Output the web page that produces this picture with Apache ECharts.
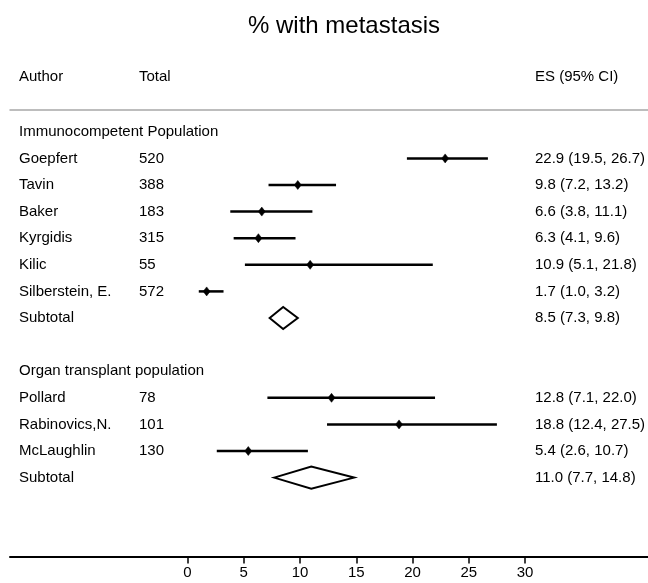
<!DOCTYPE html>
<html>
<head>
<meta charset="utf-8">
<script src="https://cdn.jsdelivr.net/npm/echarts@6/dist/echarts.min.js"></script>
<style>
html,body{margin:0;padding:0;background:#fff;}
#chart{width:648px;height:583px;}
</style>
</head>
<body>
<div id="chart"></div>
<script>
// ---- data ----
const rowLabels = ['Immunocompetent Population','Goepfert','Tavin','Baker','Kyrgidis','Kilic','Silberstein, E.','Subtotal','','Organ transplant population','Pollard','Rabinovics,N.','McLaughlin','Subtotal'];
const rowTotals = ['','520','388','183','315','55','572','','','','78','101','130',''];
const rowKinds  = ['group','study','study','study','study','study','study','pooled','blank','group','study','study','study','pooled'];
const esValues  = [null,22.9,9.8,6.6,6.3,10.9,1.7,8.5,null,null,12.8,18.8,5.4,11.0];
const ciLower   = [null,19.5,7.2,3.8,4.1,5.1,1.0,7.3,null,null,7.1,12.4,2.6,7.7];
const ciUpper   = [null,26.7,13.2,11.1,9.6,21.8,3.2,9.8,null,null,22.0,27.5,10.7,14.8];
const xTicks    = [0,5,10,15,20,25,30];
const titleText = '% with metastasis';
const headers   = ['Author','Total','ES (95% CI)'];

const FONT = "'Liberation Sans', Arial, Helvetica, sans-serif";
const fmt = v => v.toFixed(1);

const seriesData = rowLabels.map((lab, i) => [i, esValues[i], ciLower[i], ciUpper[i]]);

const chart = echarts.init(document.getElementById('chart'), null, {renderer:'canvas'});

function txt(s, x, y, size) {
  return {type:'text', style:{text:s, x:x, y:y, fill:'#000', font:size + 'px ' + FONT, textVerticalAlign:'middle', verticalAlign:'middle'}};
}

function renderItem(params, api) {
  const i = api.value(0);
  const kind = rowKinds[i];
  const yPix = api.coord([0, i])[1];
  const children = [];
  if (rowLabels[i]) children.push(txt(rowLabels[i], 19, yPix, 15));
  if (rowTotals[i]) children.push(txt(rowTotals[i], 139, yPix, 15));
  if (kind === 'study' || kind === 'pooled') {
    const es = api.value(1), lo = api.value(2), hi = api.value(3);
    const pLo = api.coord([lo, i]), pHi = api.coord([hi, i]), pEs = api.coord([es, i]);
    children.push(txt(fmt(es) + ' (' + fmt(lo) + ', ' + fmt(hi) + ')', 535, yPix, 15));
    if (kind === 'study') {
      children.push({type:'line', shape:{x1:pLo[0], y1:yPix, x2:pHi[0], y2:yPix}, style:{stroke:'#000', lineWidth:2.5}});
      children.push({type:'polygon', shape:{points:[[pEs[0], yPix-4.5],[pEs[0]+3.5, yPix],[pEs[0], yPix+4.5],[pEs[0]-3.5, yPix]]}, style:{fill:'#000', stroke:'#000', lineWidth:0.5}});
    } else {
      children.push({type:'polygon', shape:{points:[[pLo[0], yPix],[pEs[0], yPix-11],[pHi[0], yPix],[pEs[0], yPix+11]]}, style:{fill:'none', stroke:'#000', lineWidth:2}});
    }
  }
  return {type:'group', children: children};
}

const option = {
  backgroundColor:'#fff',
  animation:false,
  textStyle:{fontFamily:FONT},
  grid:{left:10, right:0, top:110, bottom:26.5, containLabel:false},
  xAxis:[{
    type:'value', position:'bottom', min:-15.78, max:40.93,
    axisLine:{show:true, onZero:false, lineStyle:{color:'#000', width:2}},
    axisTick:{show:true, customValues:xTicks, length:7, lineStyle:{color:'#000', width:1.5}},
    axisLabel:{show:true, customValues:xTicks, color:'#000', fontSize:15, fontFamily:FONT, margin:9},
    splitLine:{show:false}
  },{
    type:'value', position:'top', min:-15.78, max:40.93,
    axisLine:{show:true, onZero:false, lineStyle:{color:'#a8a8a8', width:1.5}},
    axisTick:{show:false}, axisLabel:{show:false}, splitLine:{show:false}
  }],
  yAxis:{type:'value', inverse:true, min:-0.8195, max:15.966, show:false},
  graphic:[
    {type:'text', x:248, y:26.5, style:{text:titleText, fill:'#000', font:'24px ' + FONT, textVerticalAlign:'middle', verticalAlign:'middle'}},
    {type:'text', x:19, y:77, style:{text:headers[0], fill:'#000', font:'15px ' + FONT, textVerticalAlign:'middle', verticalAlign:'middle'}},
    {type:'text', x:139, y:77, style:{text:headers[1], fill:'#000', font:'15px ' + FONT, textVerticalAlign:'middle', verticalAlign:'middle'}},
    {type:'text', x:535, y:77, style:{text:headers[2], fill:'#000', font:'15px ' + FONT, textVerticalAlign:'middle', verticalAlign:'middle'}}
  ],
  series:[{
    type:'custom', coordinateSystem:'cartesian2d', xAxisIndex:0, yAxisIndex:0,
    renderItem:renderItem, clip:false, silent:true,
    encode:{x:[1,2,3], y:0},
    data:seriesData
  }]
};
chart.setOption(option);
</script>
</body>
</html>
